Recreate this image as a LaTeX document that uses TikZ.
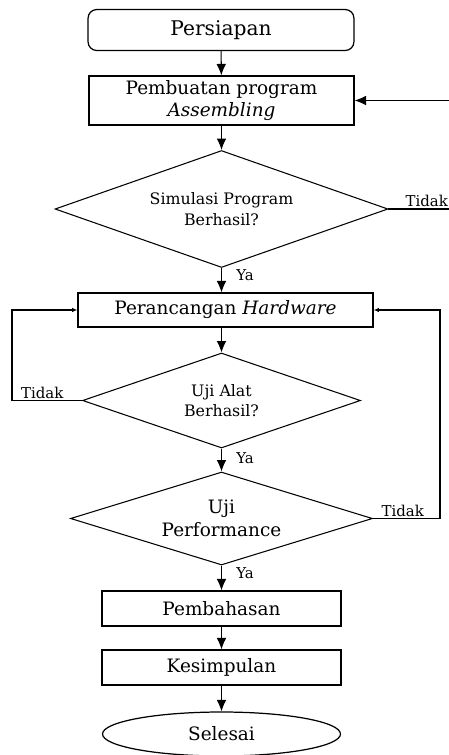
\documentclass[tikz,border=0pt]{standalone}
\usepackage{fontspec}
\setmainfont{DejaVu Serif}
\usetikzlibrary{shapes.geometric,arrows.meta}

\begin{document}
\begin{tikzpicture}[x=0.02cm,y=-0.02cm,
  box/.style={draw, line width=0.7pt, inner sep=1pt, align=center, font=\fontsize{10.5}{12.5}\selectfont},
  cond/.style={draw, diamond, line width=0.6pt, inner sep=0pt, align=center, font=\fontsize{8.5}{11}\selectfont},
  lbl/.style={font=\fontsize{8.5}{10}\selectfont, inner sep=1pt},
  flow/.style={line width=0.6pt, -{Latex[length=6.5pt,width=5.5pt]}},
  back/.style={line width=0.6pt, -{Latex[length=3pt,width=2.5pt]}}]
  \useasboundingbox (0,0) rectangle (449,755);

  \node[box, rounded corners=5pt, minimum width=5.32cm, minimum height=0.82cm, font=\fontsize{11.5}{13}\selectfont] (siap) at (221,30) {Persiapan};
  \node[box, minimum width=5.3cm, minimum height=0.98cm] (buat) at (221.5,100.5) {Pembuatan program\\\textit{Assembling}};
  \node[cond, aspect=2.85, minimum width=6.66cm, minimum height=2.34cm, font=\fontsize{9}{11.5}\selectfont] (sim) at (221.5,209) {Simulasi Program\\Berhasil?};
  \node[box, minimum width=5.9cm, minimum height=0.68cm] (hw) at (225.5,310) {Perancangan \textit{Hardware}};
  \node[cond, aspect=2.9, minimum width=5.56cm, minimum height=1.9cm, font=\fontsize{9}{11.5}\selectfont] (alat) at (221.5,400.5) {Uji Alat\\Berhasil?};
  \node[cond, aspect=3.2, minimum width=6.04cm, minimum height=1.86cm, font=\fontsize{10.5}{13}\selectfont] (perf) at (221.5,518.5) {Uji\\Performance};
  \node[box, minimum width=4.78cm, minimum height=0.7cm] (bahas) at (221.5,608.5) {Pembahasan};
  \node[box, minimum width=4.78cm, minimum height=0.7cm] (simpul) at (221.5,667.5) {Kesimpulan};
  \node[box, ellipse, minimum width=4.76cm, minimum height=0.88cm] (selesai) at (221.5,734) {Selesai};

  \draw[flow] (siap) -- (buat);
  \draw[flow] (buat) -- (sim);
  \draw[flow] (sim.south) -- node[lbl, anchor=west, pos=0.3, xshift=0.25cm] {Ya} (sim.south |- hw.north);
  \draw[flow] (alat.north |- hw.south) -- (alat.north);
  \draw[flow] (alat) -- node[lbl, anchor=west, pos=0.4, xshift=0.25cm] {Ya} (perf);
  \draw[flow] (perf) -- node[lbl, anchor=west, pos=0.3, xshift=0.25cm] {Ya} (bahas);
  \draw[flow] (bahas) -- (simpul);
  \draw[flow] (simpul) -- (selesai);

  \coordinate (kanan1) at (450,209);
  \coordinate (kiri) at (12,400.5);
  \coordinate (kanan2) at (440,518.5);
  \draw[flow] (sim.east) -- (kanan1) |- (buat.east);
  \node[lbl, anchor=south east] at (kanan1) {Tidak};
  \draw[back] (alat.west) -- (kiri) |- (hw.west);
  \node[lbl, anchor=south west] at ([xshift=0.14cm]kiri) {Tidak};
  \draw[back] (perf.east) -- (kanan2) |- (hw.east);
  \node[lbl, anchor=south east] at ([xshift=-0.28cm]kanan2) {Tidak};
\end{tikzpicture}
\end{document}
